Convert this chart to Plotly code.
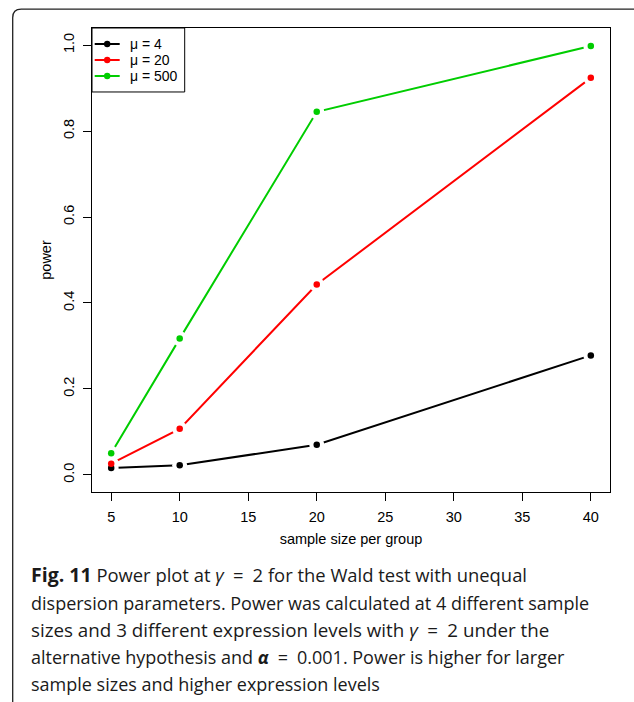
import plotly.graph_objects as go

# ---- data ----
sample_sizes = [5, 10, 20, 40]
power_mu4 = [0.016, 0.022, 0.070, 0.278]
power_mu20 = [0.026, 0.107, 0.443, 0.924]
power_mu500 = [0.050, 0.317, 0.845, 0.998]
series_names = ["\u03bc = 4", "\u03bc = 20", "\u03bc = 500"]
series_colors = ["#000000", "#FF0000", "#00CD00"]
x_ticks = [5, 10, 15, 20, 25, 30, 35, 40]
y_ticks = [0.0, 0.2, 0.4, 0.6, 0.8, 1.0]
y_tick_text = ["0.0", "0.2", "0.4", "0.6", "0.8", "1.0"]
x_title = "sample size per group"
y_title = "power"
caption_lines = [
    "<b><span style=\"font-size:19.5px\">Fig. 11</span></b> Power plot at <i>\u03b3</i>\u2002=\u20022 for the Wald test with unequal",
    "dispersion parameters. Power was calculated at 4 different sample",
    "sizes and 3 different expression levels with <i>\u03b3</i>\u2002=\u20022 under the",
    "alternative hypothesis and <b><i>\u03b1</i></b>\u2002=\u20020.001. Power is higher for larger",
    "sample sizes and higher expression levels",
]
caption_sizes = [18.4, 18, 18.8, 18, 18]

W, H = 634, 702
L, R, T, B = 92.3, 610.3, 28.3, 492.5

def px2paper(px, py):
    return (px - L) / (R - L), (B - py) / (B - T)

all_y = [power_mu4, power_mu20, power_mu500]
fig = go.Figure()

# lines (R type="b")
for name, ys, c in zip(series_names, all_y, series_colors):
    fig.add_trace(go.Scatter(x=sample_sizes, y=ys, mode="lines", name=name,
                             line=dict(color=c, width=2), showlegend=False,
                             cliponaxis=False))
# white gaps around points
for ys in all_y:
    fig.add_trace(go.Scatter(x=sample_sizes, y=ys, mode="markers", showlegend=False,
                             marker=dict(color="white", size=15, line=dict(width=0)),
                             hoverinfo="skip", cliponaxis=False))
# dots on top
for name, ys, c in zip(series_names, all_y, series_colors):
    fig.add_trace(go.Scatter(x=sample_sizes, y=ys, mode="markers", name=name,
                             showlegend=False,
                             marker=dict(color=c, size=6.5, line=dict(width=0)),
                             cliponaxis=False))

tick_font = dict(family="Liberation Sans, Arial, sans-serif", size=14.5, color="#000")
title_font = dict(family="Liberation Sans, Arial, sans-serif", size=14.5, color="#000")
fig.update_xaxes(range=[3.6, 41.4], tickvals=x_ticks, ticks="outside", ticklen=8,
                 tickwidth=1, tickcolor="#000", showgrid=False, zeroline=False,
                 showline=True, linecolor="#000", linewidth=1, mirror=True,
                 tickfont=tick_font, ticklabelstandoff=4,
                 title=dict(text=x_title, font=title_font, standoff=9))
fig.update_yaxes(range=[-0.04, 1.04], tickvals=y_ticks, ticktext=y_tick_text,
                 tickangle=-90, ticks="outside", ticklen=8,
                 tickwidth=1, tickcolor="#000", showgrid=False, zeroline=False,
                 showline=True, linecolor="#000", linewidth=1, mirror=True,
                 tickfont=tick_font, ticklabelstandoff=3,
                 title=dict(text=y_title, font=title_font, standoff=6))

# outer rounded frame
x0, y0 = px2paper(13, 712)
x1, y1 = px2paper(13, 18)
qx, qy = px2paper(13, 9.5)
ex, ey = px2paper(21.5, 9.5)
fx, fy = px2paper(650, 9.5)
fig.add_shape(type="path", xref="paper", yref="paper",
              path=f"M {x0},{y0} L {x1},{y1} Q {qx},{qy} {ex},{ey} L {fx},{fy}",
              line=dict(color="#222", width=1.3))

# legend (drawn as R's legend box)
lx0, ly0 = px2paper(92.3, 92.3)
lx1, ly1 = px2paper(185, 28.3)
fig.add_shape(type="rect", xref="paper", yref="paper", x0=lx0, y0=ly0, x1=lx1, y1=ly1,
              line=dict(color="#000", width=1), fillcolor="white", layer="above")
for i, (name, c) in enumerate(zip(series_names, series_colors)):
    iy = 44.3 + 16 * i
    sx0, sy = px2paper(95, iy)
    sx1, _ = px2paper(120, iy)
    fig.add_shape(type="line", xref="paper", yref="paper", x0=sx0, y0=sy, x1=sx1, y1=sy,
                  line=dict(color=c, width=2), layer="above")
    cx0, cy0 = px2paper(107.5 - 3.2, iy + 3.2)
    cx1, cy1 = px2paper(107.5 + 3.2, iy - 3.2)
    fig.add_shape(type="circle", xref="paper", yref="paper", x0=cx0, y0=cy0, x1=cx1, y1=cy1,
                  line=dict(width=0), fillcolor=c, layer="above")
    tx, ty = px2paper(128.5, iy)
    fig.add_annotation(text=name, xref="paper", yref="paper", x=tx, y=ty,
                       xanchor="left", yanchor="middle", showarrow=False,
                       font=dict(family="Liberation Sans, Arial, sans-serif", size=14, color="#000"))

# caption
baselines = [575, 604, 631, 658, 685]
for line, by, fs in zip(caption_lines, baselines, caption_sizes):
    ax, ay = px2paper(29, by)
    fig.add_annotation(text=line, xref="paper", yref="paper", x=ax, y=ay,
                       xanchor="left", yanchor="middle", showarrow=False, align="left",
                       font=dict(family="Open Sans, sans-serif", size=fs, color="#1a1a1a"))

fig.update_layout(
    width=W, height=H,
    margin=dict(l=L, r=W - R, t=T, b=H - B),
    plot_bgcolor="white", paper_bgcolor="white",
    showlegend=False,
)

fig.write_html("out.html")
